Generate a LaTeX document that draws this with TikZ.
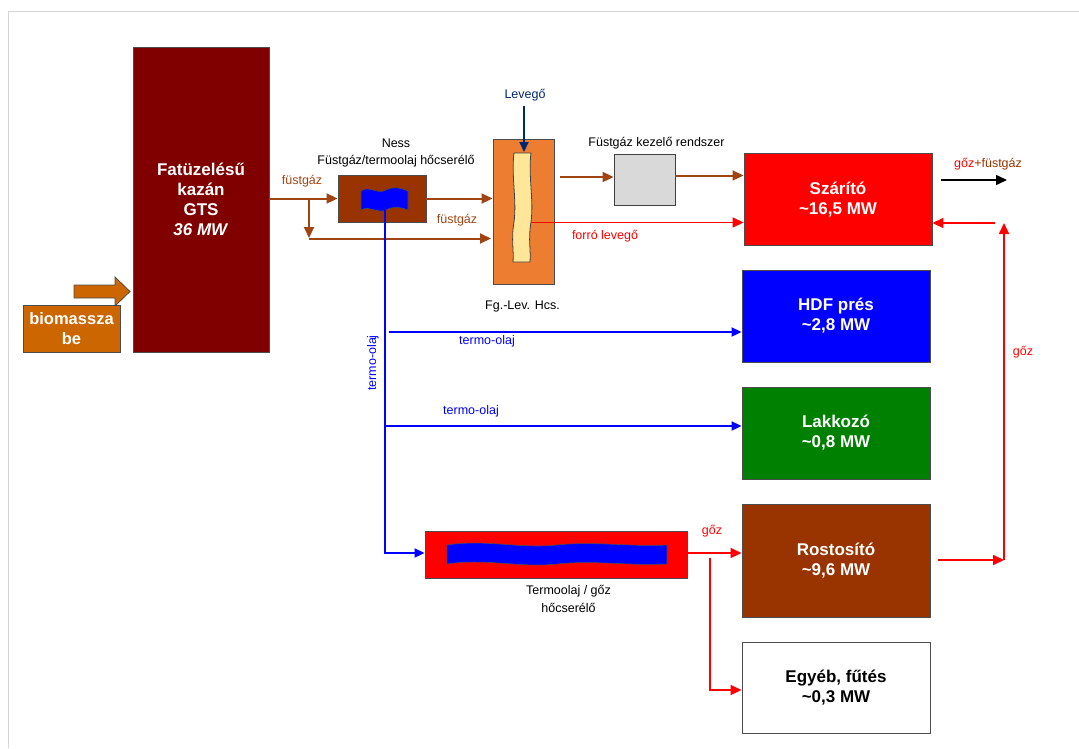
\documentclass[tikz,border=0pt]{standalone}
\usepackage{fontspec}
\setmainfont{Liberation Sans}
\usepackage{tikz}
\usetikzlibrary{calc,arrows.meta}
\definecolor{kazanred}{RGB}{128, 0, 0}
\definecolor{biobrown}{RGB}{204, 102, 0}
\definecolor{nessbrown}{RGB}{153, 51, 0}
\definecolor{gasbrown}{RGB}{160, 68, 20}
\definecolor{fgorange}{RGB}{237, 125, 49}
\definecolor{stripyellow}{RGB}{255, 230, 153}
\definecolor{airnavy}{RGB}{0, 40, 110}
\definecolor{kezelogray}{RGB}{217, 217, 217}
\definecolor{lakkgreen}{RGB}{0, 128, 0}
\definecolor{framegray}{RGB}{212, 212, 212}

\begin{document}
\begin{tikzpicture}[x=1pt, y=-1pt,
    unit/.style={draw=black!70, line width=0.9pt, inner sep=0pt, align=center,
        text=white, font=\fontsize{17}{20}\selectfont\bfseries},
    gas/.style={-{Triangle[length=11pt,width=10pt]}, line width=2pt, gasbrown},
    oil/.style={-{Triangle[length=10pt,width=9pt]}, line width=2pt, blue},
    steam/.style={-{Triangle[length=11pt,width=10pt]}, line width=1.7pt, red},
    lbl/.style={font=\fontsize{12.5}{15}\selectfont, inner sep=1pt}]
    \useasboundingbox (0,0) rectangle (1079,748);

    % Frame
    \draw[framegray, line width=1pt] (8,748) -- (8,11) -- (1079,11);

    % Boiler and fuel input
    \node[unit, fill=kazanred, minimum width=136pt, minimum height=305pt] (kazan) at (201,199.5)
        {Fatüzelésű\\kazán\\GTS\\\textit{36 MW}};
    \filldraw[fill=biobrown, draw=black!70, line width=0.8pt]
        (74,285) -- (115,285) -- (115,277) -- (130,291.5) -- (115,306) -- (115,298) -- (74,298) -- cycle;
    \node[unit, fill=biobrown, minimum width=97pt, minimum height=47pt,
        font=\fontsize{16.5}{20}\selectfont\bfseries] (bio) at (71.5,329) {biomassza\\be};

    % Ness flue gas / thermal oil exchanger
    \node[unit, fill=nessbrown, minimum width=88pt, minimum height=47pt] (ness) at (382,198.5) {};
    \filldraw[fill=blue, draw=black!70, line width=0.6pt]
        (361,191) .. controls (369,185) and (378,195) .. (386,190)
        .. controls (394,186) and (401,188) .. (408,191) -- (408,210)
        .. controls (401,207) and (394,206) .. (386,210)
        .. controls (378,214) and (369,205) .. (361,210) -- cycle;
    \node[lbl] (nesslbl) at (396,143) {Ness};
    \node[lbl] (nesslbl2) at (396,161) {Füstgáz/termoolaj hőcserélő};

    % Flue gas / air exchanger
    \node[unit, fill=fgorange, minimum width=61pt, minimum height=145pt] (fglev) at (523.5,211.5) {};
    \filldraw[fill=stripyellow, draw=black!75, line width=0.8pt]
        (514,153) -- (531,153) .. controls (528,175) and (534,200) .. (531,222)
        .. controls (528,240) and (531,250) .. (530,262) -- (513,262)
        .. controls (514,250) and (511,240) .. (514,222)
        .. controls (517,200) and (511,175) .. (514,153) -- cycle;
    \node[lbl] (fglevlbl) at (522.5,306) {Fg.-Lev. Hcs.};
    \node[lbl, airnavy] (levego) at (525,95) {Levegő};
    \coordinate (airin) at (524,106);
    \draw[-{Triangle[length=10pt,width=9pt]}, line width=2pt, airnavy] (airin) -- (524,152);

    % Flue gas treatment
    \node[unit, draw=black!75, fill=kezelogray, minimum width=61pt, minimum height=51pt] (kezelo) at (644.5,179.5) {};
    \node[lbl] (kezelolbl) at (656.5,143) {Füstgáz kezelő rendszer};

    % Consumers
    \node[unit, fill=red, minimum width=188pt, minimum height=92pt] (szarito) at (838,199.5) {Szárító\\\textasciitilde16,5 MW};
    \node[unit, fill=blue, minimum width=188pt, minimum height=92pt] (hdf) at (836,316) {HDF prés\\\textasciitilde2,8 MW};
    \node[unit, fill=lakkgreen, minimum width=188pt, minimum height=92pt] (lakk) at (836,433) {Lakkozó\\\textasciitilde0,8 MW};
    \node[unit, fill=nessbrown, minimum width=188pt, minimum height=113pt] (rost) at (836,560.5) {Rostosító\\\textasciitilde9,6 MW};
    \node[unit, fill=white, text=black, minimum width=188pt, minimum height=91pt] (egyeb) at (836,687.5) {Egyéb, fűtés\\\textasciitilde0,3 MW};

    % Thermal oil / steam exchanger
    \node[unit, fill=red, minimum width=262pt, minimum height=47pt] (tohx) at (556,554.5) {};
    \filldraw[fill=blue, draw=black!70, line width=0.6pt]
        (447,545) .. controls (485,539) and (520,549) .. (557,545)
        .. controls (595,541) and (630,547) .. (667,545) -- (667,564)
        .. controls (630,566) and (595,560) .. (557,564)
        .. controls (520,568) and (485,558) .. (447,564) -- cycle;
    \node[lbl] (tohxlbl) at (568.5,591) {Termoolaj / gőz};
    \node[lbl] (tohxlbl2) at (568.5,608) {hőcserélő};

    % Flue gas lines
    \draw[gas] (kazan.east |- ness.west) -- (ness.west);
    \node[lbl, gasbrown] (fg1) at (302,181) {füstgáz};
    \coordinate (split) at (309,198.5);
    \draw[gas] (split) -- (309,238);
    \draw[gas] (309,238.5) -- (491,238.5);
    \draw[gas] (ness.east) -- (ness.east -| fglev.west);
    \node[lbl, gasbrown] (fg2) at (457,220) {füstgáz};
    \coordinate (fgout) at (560,177);
    \draw[gas] (fgout) -- (fgout -| kezelo.west);
    \draw[gas] (kezelo.east |- 0,175.5) -- (szarito.west |- 0,175.5);

    % Hot air
    \coordinate (hotair) at (531,222.5);
    \draw[steam] (hotair) -- (hotair -| szarito.west);
    \node[lbl, red] (forro) at (605,236) {forró levegő};

    % Exhaust
    \coordinate (exh) at (941,180);
    \draw[-{Triangle[length=11pt,width=10pt]}, line width=1.5pt, black] (exh) -- (1007,180);
    \node[lbl] (exhlbl) at (988,164) {\textcolor{red}{gőz}\textcolor{nessbrown}{+füstgáz}};

    % Thermal oil lines
    \coordinate (oilsrc) at (385,210);
    \coordinate (oilcorner) at (385,553);
    \draw[oil] (oilsrc) -- (oilcorner) -- (oilcorner -| tohx.west);
    \node[lbl, blue, rotate=90] (olaj0) at (373,363) {termo-olaj};
    \coordinate (hdfin) at (389,332);
    \draw[oil] (hdfin) -- (hdfin -| hdf.west);
    \node[lbl, blue] (olaj1) at (487,341) {termo-olaj};
    \coordinate (lakkin) at (385,426);
    \draw[oil] (lakkin) -- (lakkin -| lakk.west);
    \node[lbl, blue] (olaj2) at (471,411) {termo-olaj};

    % Steam lines
    \draw[steam] (tohx.east |- 0,553) -- (rost.west |- 0,553);
    \node[lbl, red] (goz1) at (712,531) {gőz};
    \coordinate (gozsplit) at (710,558);
    \draw[steam] (gozsplit) -- (710,690) -- (egyeb.west |- 0,690);
    \coordinate (rostout) at (938,560);
    \coordinate (gozup) at (1004,560);
    \draw[steam] (rostout) -- (gozup);
    \draw[steam] (gozup) -- (1004,223);
    \coordinate (gozret) at (995,223);
    \draw[steam] (gozret) -- (gozret -| szarito.east);
    \node[lbl, red] (goz2) at (1023,352) {gőz};
\end{tikzpicture}
\end{document}
